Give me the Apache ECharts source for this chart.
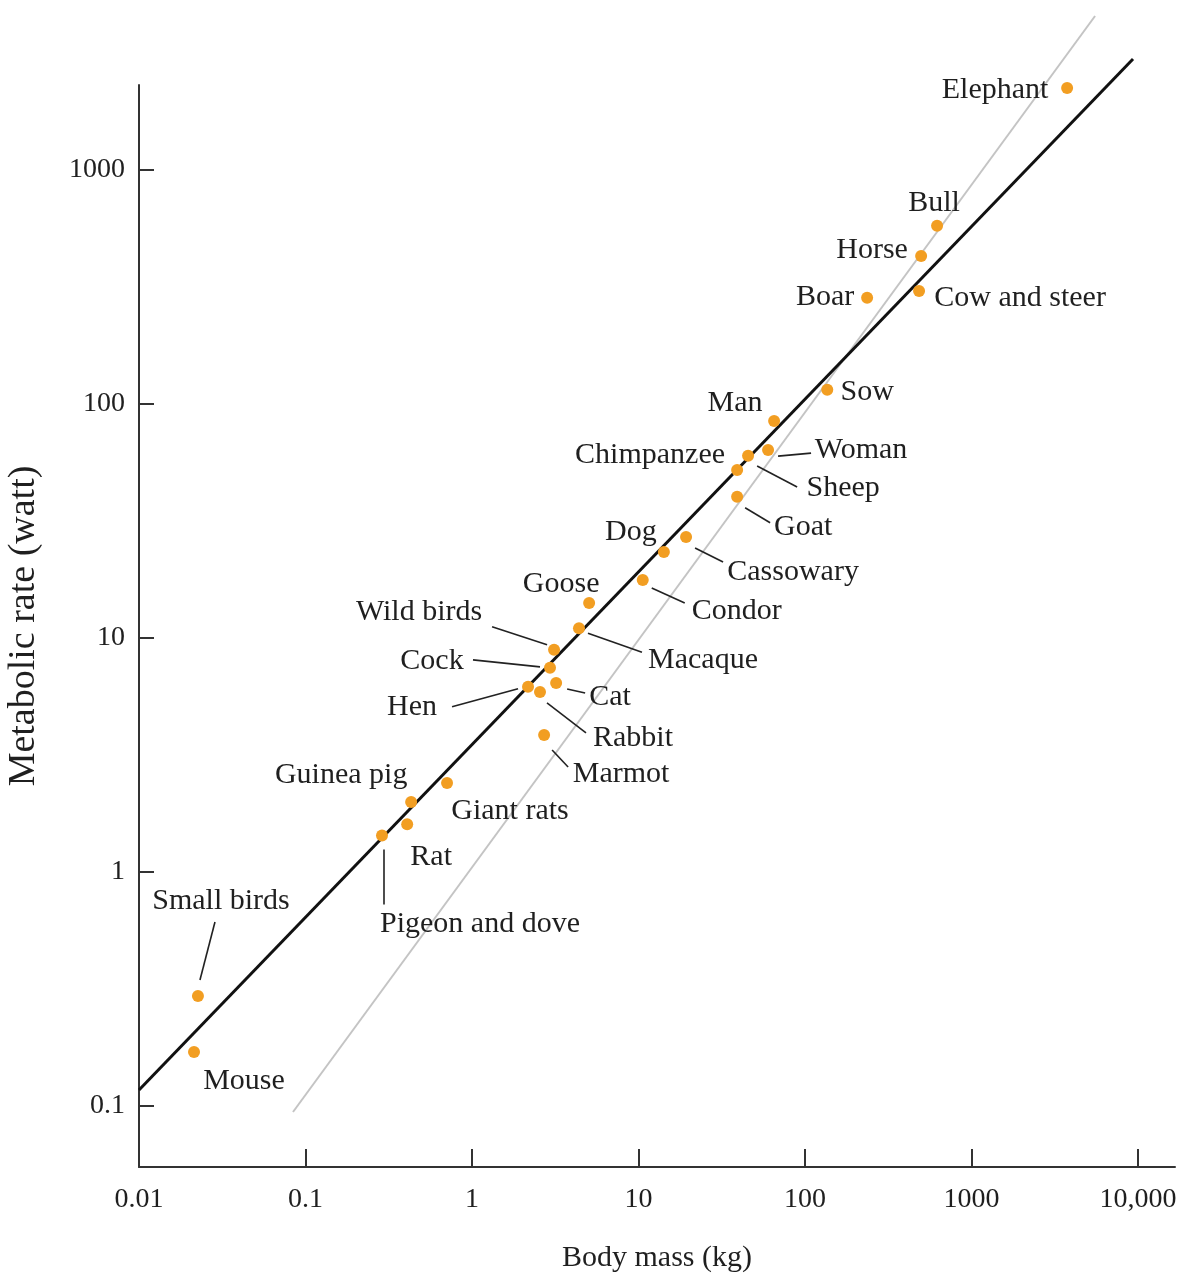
<!DOCTYPE html>
<html>
<head>
<meta charset="utf-8">
<script src="https://cdn.jsdelivr.net/npm/echarts@6/dist/echarts.min.js"></script>
<style>
  html, body { margin: 0; padding: 0; background: #ffffff; }
  #chart { width: 1180px; height: 1280px; }
</style>
</head>
<body>
<div id="chart"></div>
<script>
// ---- data ----
const animals = ['Elephant','Bull','Horse','Boar','Cow and steer','Sow','Man','Woman','Chimpanzee','Sheep','Goat','Cassowary','Dog','Condor','Goose','Macaque','Wild birds','Cock','Cat','Hen','Rabbit','Marmot','Giant rats','Guinea pig','Rat','Pigeon and dove','Small birds','Mouse'];
const bodyMassKg = [3750, 621, 498, 236, 484, 136, 65.2, 60, 45.5, 39.1, 39.1, 19.3, 14.2, 10.6, 5.05, 4.39, 3.11, 2.94, 3.20, 2.17, 2.56, 2.71, 0.708, 0.431, 0.408, 0.288, 0.0226, 0.0214];
const metabolicRateW = [2240, 577, 429, 284, 304, 115, 84.6, 63.5, 60, 52.2, 40.1, 27.0, 23.3, 17.7, 14.1, 11.0, 8.9, 7.45, 6.42, 6.18, 5.88, 3.85, 2.40, 1.99, 1.60, 1.43, 0.295, 0.170];

// fitted line (black) and reference line (grey): endpoints [mass, rate]
const fitLineMass = [0.01, 9330];
const fitLineRate = [0.117, 2980];
const refLineMass = [0.0841, 5520];
const refLineRate = [0.0942, 4550];

const xTicks = [0.01, 0.1, 1, 10, 100, 1000, 10000];
const xTickLabels = ['0.01', '0.1', '1', '10', '100', '1000', '10,000'];
const yTicks = [0.1, 1, 10, 100, 1000];
const yTickLabels = ['0.1', '1', '10', '100', '1000'];

const xAxisTitle = 'Body mass (kg)';
const yAxisTitle = 'Metabolic rate (watt)';

// ---- styling: label offsets (px, label centre relative to dot) ----
const labelOffsets = {
  'Elephant': [-72, 2], 'Bull': [-3, -23], 'Horse': [-49, -6], 'Boar': [-42, -1],
  'Cow and steer': [101, 7], 'Sow': [40, 2], 'Man': [-39, -18], 'Woman': [93, 0],
  'Chimpanzee': [-98, -1], 'Sheep': [106, 18], 'Goat': [66, 30], 'Cassowary': [107, 35],
  'Dog': [-33, -20], 'Condor': [94, 31], 'Goose': [-28, -19], 'Macaque': [124, 32],
  'Wild birds': [-135, -38], 'Cock': [-118, -7], 'Cat': [54, 14], 'Hen': [-116, 20],
  'Rabbit': [93, 46], 'Marmot': [77, 39], 'Giant rats': [63, 28], 'Guinea pig': [-70, -27],
  'Rat': [24, 33], 'Pigeon and dove': [98, 89], 'Small birds': [23, -95], 'Mouse': [50, 29]
};
// leader lines (px offsets from dot: x1, y1, x2, y2)
const leaderOffsets = {
  'Small birds': [2, -16, 17, -74],
  'Pigeon and dove': [2, 14, 2, 69],
  'Woman': [10, 6, 43, 3],
  'Sheep': [20, -4, 60, 17],
  'Goat': [8, 11, 33, 26],
  'Cassowary': [9, 11, 37, 25],
  'Condor': [9, 8, 42, 23],
  'Wild birds': [-62, -23, -7, -5],
  'Macaque': [9, 5, 63, 24],
  'Cock': [-77, -8, -10, -1],
  'Cat': [11, 6, 29, 10],
  'Hen': [-76, 20, -10, 2],
  'Rabbit': [7, 11, 46, 41],
  'Marmot': [8, 15, 24, 32]
};

const lg = Math.log10;
const FONT = '"Liberation Serif", "Times New Roman", serif';
const TEXT = '#1f1f1f';

const scatterData = animals.map((n, i) => ({
  name: n,
  value: [lg(bodyMassKg[i]), lg(metabolicRateW[i])]
}));

const leaderData = animals
  .map((n, i) => ({ name: n, value: [lg(bodyMassKg[i]), lg(metabolicRateW[i])] }))
  .filter(d => leaderOffsets[d.name]);

function tickFmt(ticks, labels) {
  return function (v) {
    const k = ticks.findIndex(t => Math.abs(lg(t) - v) < 1e-6);
    return k >= 0 ? labels[k] : '';
  };
}

const chart = echarts.init(document.getElementById('chart'), null, { renderer: 'canvas' });
chart.setOption({
  animation: false,
  backgroundColor: '#ffffff',
  grid: { left: 139, right: 5, top: 85, bottom: 113, containLabel: false, outerBoundsMode: 'none' },
  xAxis: {
    type: 'value',
    min: -2,
    max: 4.222,
    name: xAxisTitle,
    nameLocation: 'middle',
    nameGap: 76,
    nameTextStyle: { fontFamily: FONT, fontSize: 30, color: TEXT },
    axisLine: { show: true, onZero: false, lineStyle: { color: '#333', width: 2 } },
    axisTick: { show: true, inside: true, length: 18, customValues: xTicks.map(lg), lineStyle: { color: '#333', width: 2 } },
    axisLabel: { show: true, margin: 19, customValues: xTicks.map(lg), formatter: tickFmt(xTicks, xTickLabels), fontFamily: FONT, fontSize: 28, color: TEXT },
    splitLine: { show: false }
  },
  yAxis: {
    type: 'value',
    min: -1.261,
    max: 3.363,
    name: yAxisTitle,
    nameLocation: 'middle',
    nameGap: 96,
    nameTextStyle: { fontFamily: FONT, fontSize: 38, color: TEXT },
    axisLine: { show: true, onZero: false, lineStyle: { color: '#333', width: 2 } },
    axisTick: { show: true, inside: true, length: 15, customValues: yTicks.map(lg), lineStyle: { color: '#333', width: 2 } },
    axisLabel: { show: true, margin: 14, customValues: yTicks.map(lg), formatter: tickFmt(yTicks, yTickLabels), fontFamily: FONT, fontSize: 28, color: TEXT },
    splitLine: { show: false }
  },
  series: [
    {
      type: 'line',
      name: 'reference',
      data: refLineMass.map((m, i) => [lg(m), lg(refLineRate[i])]),
      symbol: 'none',
      clip: false,
      lineStyle: { color: '#c4c4c4', width: 2 },
      z: 1,
      silent: true
    },
    {
      type: 'line',
      name: 'fit',
      data: fitLineMass.map((m, i) => [lg(m), lg(fitLineRate[i])]),
      symbol: 'none',
      clip: false,
      lineStyle: { color: '#111', width: 3 },
      z: 2,
      silent: true
    },
    {
      type: 'custom',
      name: 'leaders',
      data: leaderData,
      clip: false,
      z: 3,
      silent: true,
      renderItem: function (params, api) {
        const p = api.coord([api.value(0), api.value(1)]);
        const o = leaderOffsets[leaderData[params.dataIndex].name];
        return {
          type: 'line',
          shape: { x1: p[0] + o[0], y1: p[1] + o[1], x2: p[0] + o[2], y2: p[1] + o[3] },
          style: { stroke: '#222', lineWidth: 1.6 }
        };
      }
    },
    {
      type: 'scatter',
      name: 'animals',
      data: scatterData,
      symbol: 'circle',
      symbolSize: 12,
      clip: false,
      z: 4,
      itemStyle: { color: '#F29E22', opacity: 1 },
      label: {
        show: true,
        position: 'inside',
        formatter: '{b}',
        fontFamily: FONT,
        fontSize: 30,
        color: TEXT,
        opacity: 1,
        textBorderWidth: 0,
        textBorderColor: 'transparent',
        align: 'center',
        verticalAlign: 'middle'
      },
      labelLayout: function (params) {
        const o = labelOffsets[animals[params.dataIndex]] || [0, 0];
        return { dx: o[0], dy: o[1], hideOverlap: false };
      },
      emphasis: { disabled: true }
    }
  ]
});
</script>
</body>
</html>
